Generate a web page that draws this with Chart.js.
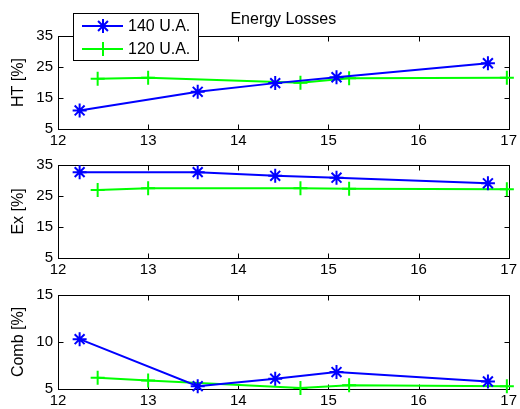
<!DOCTYPE html>
<html>
<head>
<meta charset="utf-8">
<script src="https://cdn.jsdelivr.net/npm/chart.js@4/dist/chart.umd.min.js"></script>
<style>
  body { margin: 0; background: #fff; }
  #wrap { position: relative; width: 520px; height: 409px; overflow: hidden; }
  #wrap canvas { position: absolute; left: 0; }
</style>
</head>
<body>
<div id="wrap">
  <canvas id="htChart" style="top:0px"></canvas>
  <canvas id="exChart" style="top:150px"></canvas>
  <canvas id="combChart" style="top:280px"></canvas>
</div>
<script>
// loss breakdown for the two load cases
const seriesLabels = ['140 U.A.', '120 U.A.'];
const x140 = [12.24, 13.55, 14.41, 15.09, 16.77];
const x120 = [12.44, 13.0, 14.69, 15.23, 16.98];
const ht140 = [11.0, 17.0, 19.8, 21.7, 26.2];
const ht120 = [21.2, 21.5, 19.9, 21.4, 21.5];
const ex140 = [32.7, 32.7, 31.5, 30.9, 29.1];
const ex120 = [26.9, 27.5, 27.5, 27.3, 27.2];
const comb140 = [10.3, 5.3, 6.1, 6.8, 5.8];
const comb120 = [6.2, 5.9, 5.1, 5.4, 5.3];
const xTicks = [12, 13, 14, 15, 16, 17];
const htTicks = [5, 15, 25, 35];
const exTicks = [5, 15, 25, 35];
const combTicks = [5, 10, 15];

const FONT = 'Liberation Sans, Arial, sans-serif';
const BLUE = '#0000ff';
const GREEN = '#00ff00';

function points(xs, ys) {
  return xs.map((x, i) => ({x: x, y: ys[i]}));
}

// axes box with inward tick marks on all four sides
const boxPlugin = {
  id: 'box',
  beforeDatasetsDraw(chart) {
    const {ctx, chartArea: a, scales: {x, y}} = chart;
    const L = Math.round(a.left) + 0.5, R = Math.round(a.right) + 0.5;
    const T = Math.round(a.top) + 0.5, B = Math.round(a.bottom) + 0.5;
    ctx.save();
    ctx.strokeStyle = '#000';
    ctx.lineWidth = 1;
    ctx.strokeRect(L, T, R - L, B - T);
    ctx.beginPath();
    for (const t of x.ticks) {
      const px = Math.round(x.getPixelForValue(t.value)) + 0.5;
      ctx.moveTo(px, B); ctx.lineTo(px, B - 5);
      ctx.moveTo(px, T); ctx.lineTo(px, T + 5);
    }
    for (const t of y.ticks) {
      const py = Math.round(y.getPixelForValue(t.value)) + 0.5;
      ctx.moveTo(L, py); ctx.lineTo(L + 5, py);
      ctx.moveTo(R, py); ctx.lineTo(R - 5, py);
    }
    ctx.stroke();
    ctx.restore();
  }
};

// title and legend box that sit over the top panel
const headerPlugin = {
  id: 'header',
  afterDraw(chart) {
    const {ctx, chartArea: a} = chart;
    ctx.save();
    ctx.fillStyle = '#000';
    ctx.font = '16px ' + FONT;
    ctx.textAlign = 'center';
    ctx.textBaseline = 'middle';
    ctx.fillText('Energy Losses', (a.left + a.right) / 2, 20);

    const bx = 73.5, by = 13.5, bw = 125, bh = 47;
    ctx.fillStyle = '#fff';
    ctx.fillRect(bx, by, bw, bh);
    ctx.strokeStyle = '#000';
    ctx.lineWidth = 1;
    ctx.strokeRect(bx, by, bw, bh);

    chart.data.datasets.forEach((ds, i) => {
      const yy = 26 + i * 23;
      ctx.strokeStyle = ds.borderColor;
      ctx.lineWidth = 2;
      ctx.beginPath();
      ctx.moveTo(82, yy); ctx.lineTo(123, yy);
      ctx.stroke();
      Chart.helpers.drawPoint(ctx, {
        pointStyle: ds.pointStyle, radius: ds.pointRadius,
        borderWidth: ds.pointBorderWidth, rotation: 0
      }, 103, yy);
      ctx.fillStyle = '#000';
      ctx.font = '16px ' + FONT;
      ctx.textAlign = 'left';
      ctx.fillText(ds.label, 128, yy + 1);
    });
    ctx.restore();
  }
};

function makePanel(id, height, padTop, xHeight, y140, y120, yTicks, yTitle, withHeader) {
  const canvas = document.getElementById(id);
  canvas.width = 520;
  canvas.height = height;
  return new Chart(canvas, {
    type: 'scatter',
    data: {
      datasets: [
        {
          label: seriesLabels[0], data: points(x140, y140), showLine: true,
          borderColor: BLUE, backgroundColor: BLUE, borderWidth: 2,
          pointStyle: 'star', pointRadius: 7, pointBorderWidth: 2,
          pointBorderColor: BLUE, clip: false
        },
        {
          label: seriesLabels[1], data: points(x120, y120), showLine: true,
          borderColor: GREEN, backgroundColor: GREEN, borderWidth: 2,
          pointStyle: 'cross', pointRadius: 7, pointBorderWidth: 2,
          pointBorderColor: GREEN, clip: false
        }
      ]
    },
    options: {
      responsive: false, animation: false,
      layout: {padding: {top: padTop, right: 10, bottom: 0, left: 0}},
      scales: {
        x: {
          type: 'linear', min: xTicks[0], max: xTicks[xTicks.length - 1],
          afterBuildTicks: s => { s.ticks = xTicks.map(v => ({value: v})); },
          afterFit: s => { s.height = xHeight; },
          grid: {display: false, drawTicks: false}, border: {display: false},
          ticks: {color: '#000', padding: 3, maxRotation: 0, font: {family: FONT, size: 15}}
        },
        y: {
          min: yTicks[0], max: yTicks[yTicks.length - 1],
          afterBuildTicks: s => { s.ticks = yTicks.map(v => ({value: v})); },
          afterFit: s => { s.width = 58; },
          grid: {display: false, drawTicks: false}, border: {display: false},
          ticks: {color: '#000', padding: 5, font: {family: FONT, size: 15}},
          title: {display: true, text: yTitle, color: '#000', padding: {top: 9, bottom: 2},
                  font: {family: FONT, size: 16}}
        }
      },
      plugins: {legend: {display: false}, tooltip: {enabled: false}}
    },
    plugins: withHeader ? [boxPlugin, headerPlugin] : [boxPlugin]
  });
}

makePanel('htChart', 150, 36, 21, ht140, ht120, htTicks, 'HT [%]', true);
makePanel('exChart', 130, 15, 22, ex140, ex120, exTicks, 'Ex [%]', false);
makePanel('combChart', 129, 15, 20, comb140, comb120, combTicks, 'Comb [%]', false);
</script>
</body>
</html>
